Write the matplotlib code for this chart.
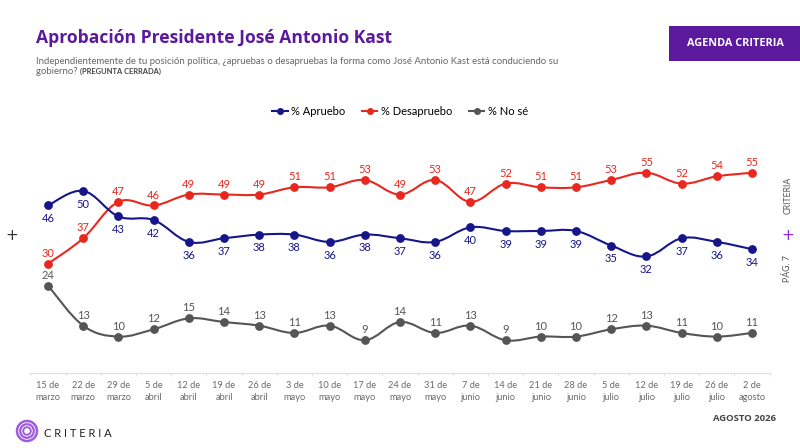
import matplotlib
matplotlib.use("Agg")
import matplotlib.pyplot as plt
from matplotlib.path import Path
from matplotlib.patches import PathPatch, Rectangle, Circle
from matplotlib.lines import Line2D
import numpy as np

fechas = ["15 de\nmarzo", "22 de\nmarzo", "29 de\nmarzo", "5 de\nabril", "12 de\nabril",
          "19 de\nabril", "26 de\nabril", "3 de\nmayo", "10 de\nmayo", "17 de\nmayo",
          "24 de\nmayo", "31 de\nmayo", "7 de\njunio", "14 de\njunio", "21 de\njunio",
          "28 de\njunio", "5 de\njulio", "12 de\njulio", "19 de\njulio", "26 de\njulio",
          "2 de\nagosto"]
apruebo = [46, 50, 43, 42, 36, 37, 38, 38, 36, 38, 37, 36, 40, 39, 39, 39, 35, 32, 37, 36, 34]
desapruebo = [30, 37, 47, 46, 49, 49, 49, 51, 51, 53, 49, 53, 47, 52, 51, 51, 53, 55, 52, 54, 55]
nose = [24, 13, 10, 12, 15, 14, 13, 11, 13, 9, 14, 11, 13, 9, 10, 10, 12, 13, 11, 10, 11]
series_names = ["% Apruebo", "% Desapruebo", "% No sé"]

BLUE = "#16168a"
RED = "#e8281e"
GRAY = "#555555"
PURPLE = "#5b1a9e"
FONT = "Lato"

fig = plt.figure(figsize=(8, 4.48), dpi=100)
ax = fig.add_axes([0.038, 0.1674, 0.924, 0.504])
ax.set_xlim(-0.5, len(fechas) - 0.5)
ax.set_ylim(0, 62)


def smooth_path(xs, ys, t=0.18):
    xs = np.asarray(xs, float)
    ys = np.asarray(ys, float)
    n = len(xs)
    verts = [(xs[0], ys[0])]
    codes = [Path.MOVETO]
    for i in range(n - 1):
        p0 = (xs[max(i - 1, 0)], ys[max(i - 1, 0)])
        p1 = (xs[i], ys[i])
        p2 = (xs[i + 1], ys[i + 1])
        p3 = (xs[min(i + 2, n - 1)], ys[min(i + 2, n - 1)])
        c1 = (p1[0] + (p2[0] - p0[0]) * t, p1[1] + (p2[1] - p0[1]) * t)
        c2 = (p2[0] - (p3[0] - p1[0]) * t, p2[1] - (p3[1] - p1[1]) * t)
        verts += [c1, c2, p2]
        codes += [Path.CURVE4] * 3
    return Path(verts, codes)


x = np.arange(len(fechas))
for vals, col, above in [(desapruebo, RED, True), (apruebo, BLUE, False), (nose, GRAY, True)]:
    ax.add_patch(PathPatch(smooth_path(x, vals), fill=False, edgecolor=col, lw=1.5, zorder=2))
    ax.plot(x, vals, "o", color=col, ms=5.3, zorder=3, clip_on=False)
    for xi, v in zip(x, vals):
        ax.annotate(str(v), (xi, v), xytext=(0, 7.5 if above else -9.5), textcoords="offset points",
                    ha="center", va="center", fontsize=8, color=col, family=FONT)

for s in ["top", "right", "left"]:
    ax.spines[s].set_visible(False)
ax.spines["bottom"].set_color("#dddddd")
ax.spines["bottom"].set_linewidth(0.8)
ax.set_yticks([])
ax.set_xticks(x)
ax.set_xticklabels(fechas, fontsize=6.7, color="#6a6a6a", family=FONT, linespacing=1.45)
ax.tick_params(axis="x", length=0, pad=6)
ax.set_xticks(np.arange(-0.5, len(fechas)), minor=True)
ax.tick_params(axis="x", which="minor", length=2.5, color="#dddddd")

# Legend
handles = [Line2D([0], [0], color=c, marker="o", ms=4, lw=1.5) for c in (BLUE, RED, GRAY)]
fig.legend(handles, series_names, loc="center", bbox_to_anchor=(0.5, 1 - 111 / 448), ncol=3,
           frameon=False, handlelength=1.4, handletextpad=0.3, columnspacing=1.5,
           prop={"family": FONT, "size": 8})

# Title and subtitle
fig.text(36 / 800, 1 - 38 / 448, "Aprobación Presidente José Antonio Kast", fontsize=12.6,
         fontweight="bold", color=PURPLE, family="Open Sans", va="center", ha="left")
fig.text(36 / 800, 1 - 61 / 448,
         "Independientemente de tu posición política, ¿apruebas o desapruebas la forma como José Antonio Kast está conduciendo su",
         fontsize=6.9, color="#666666", family=FONT, va="center", ha="left")
t1 = fig.text(36 / 800, 1 - 71.5 / 448, "gobierno? ", fontsize=6.9, color="#666666", family=FONT,
              va="center", ha="left")
fig.canvas.draw()
bb = t1.get_window_extent()
fig.text(bb.x1 / 800, 1 - 71.5 / 448, "(PREGUNTA CERRADA)", fontsize=5.4, color="#444444",
         family=FONT, fontweight="bold", va="center", ha="left")

# Agenda box
fig.patches.append(Rectangle((669 / 800, 1 - 61 / 448), 131 / 800, 35 / 448, transform=fig.transFigure,
                             facecolor=PURPLE, edgecolor="none"))
fig.text(735 / 800, 1 - 44 / 448, "AGENDA CRITERIA", fontsize=7.8, fontweight="bold", color="white",
         family="Open Sans", ha="center", va="center")

# Side markers
fig.text(12 / 800, 1 - 235 / 448, "+", fontsize=11, color="#333333", ha="center", va="center", family="DejaVu Sans")
fig.text(788 / 800, 1 - 235 / 448, "+", fontsize=11, color="#8a2be2", ha="center", va="center", family="DejaVu Sans")
fig.text(788 / 800, 1 - 195 / 448, "CRITERIA", fontsize=6.3, color="#555555", rotation=90,
         ha="center", va="center", family=FONT)
fig.text(788 / 800, 1 - 268 / 448, "PÁG. 7", fontsize=6.3, color="#555555", rotation=90,
         ha="center", va="center", family=FONT)

# Footer
fig.text(776 / 800, 1 - 418 / 448, "AGOSTO 2026", fontsize=6.8, fontweight="bold", color="#444444",
         family="Open Sans", ha="right", va="center")
lax = fig.add_axes([14 / 800, 1 - 444 / 448, 26 / 800, 26 / 448])
lax.set_xlim(-13, 13)
lax.set_ylim(-13, 13)
lax.set_aspect("equal")
lax.axis("off")
for r, lw in [(10, 1.8), (6.8, 1.6), (3.8, 1.4)]:
    lax.add_patch(Circle((0, 0), r, fill=False, edgecolor="#a05ce0", lw=lw))
fig.text(44 / 800, 1 - 433 / 448, "C R I T E R I A", fontsize=8, color="#222222", family=FONT,
         ha="left", va="center")

fig.savefig("out.png", dpi=100)
